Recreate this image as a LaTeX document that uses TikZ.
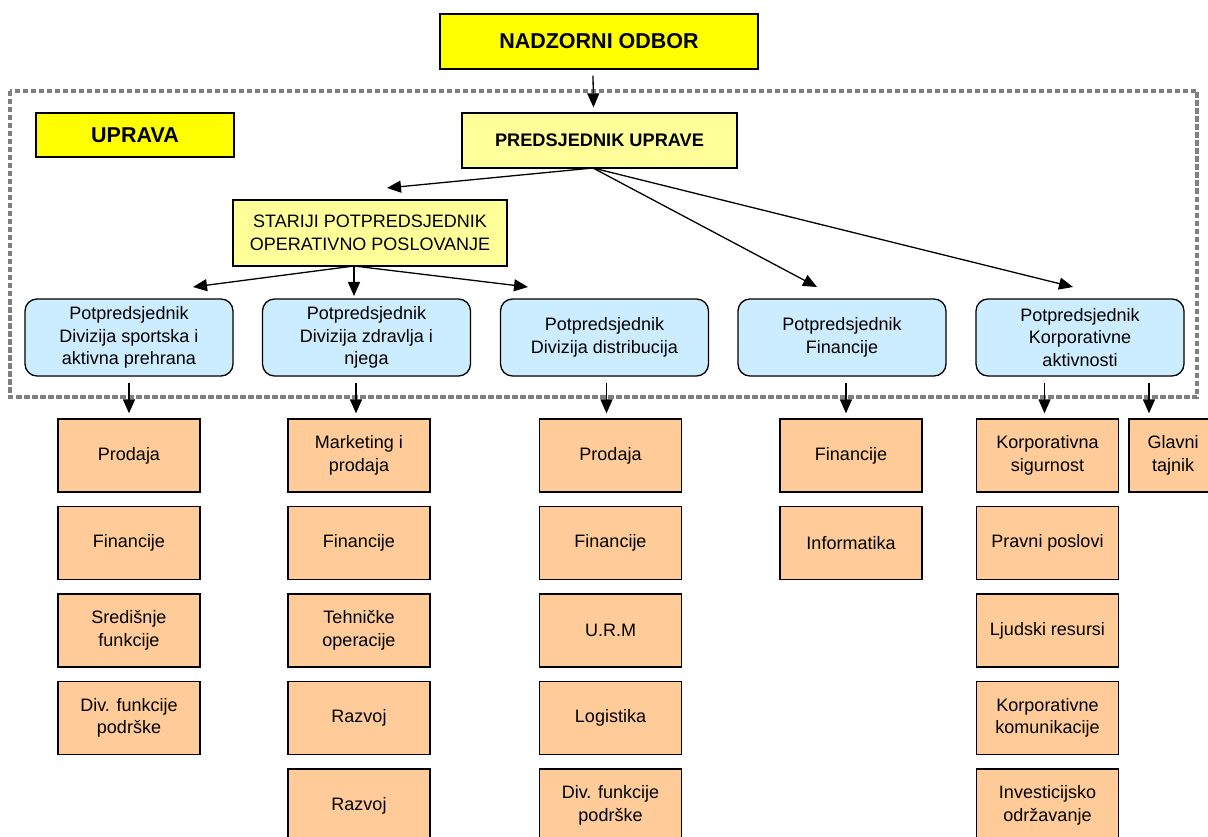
\documentclass[tikz,border=0pt]{standalone}
\usepackage{fontspec}
\setmainfont{Liberation Sans}
\usetikzlibrary{arrows.meta}
\definecolor{ylw}{HTML}{FFFF00}
\definecolor{lylw}{HTML}{FFFF99}
\definecolor{lblue}{HTML}{CCECFF}
\definecolor{orng}{HTML}{FFCC99}
\definecolor{dotgray}{HTML}{808080}
\tikzset{
  box/.style={draw=black, line width=1.3pt, align=center, inner sep=0pt,
    font=\fontsize{18}{22.5}\selectfont},
  titlebox/.style={box, fill=ylw, font=\fontsize{21.5}{25}\selectfont\bfseries},
  presbox/.style={box, fill=lylw, minimum width=275, minimum height=55,
    font=\fontsize{18.2}{22}\selectfont\bfseries},
  srbox/.style={box, fill=lylw, minimum width=274, minimum height=66},
  vpbox/.style={box, fill=lblue, rounded corners=12pt, minimum width=208, minimum height=77},
  unitbox/.style={box, fill=orng, minimum width=142, minimum height=73},
  arr/.style={line width=1.3pt, -{Triangle[length=14pt,width=12pt]}},
  border/.style={draw=dotgray, line width=3.5pt, dash pattern=on 5.5pt off 2.5pt}
}
\begin{document}
\begin{tikzpicture}[x=1pt,y=-1pt]
\useasboundingbox (0,0) rectangle (1208,837);
% dotted boundary of the management board
\draw[border] (10,91) rectangle (1197,397);
% top level
\node[titlebox, minimum width=318, minimum height=55] (nad) at (599,41.5) {NADZORNI ODBOR};
\node[titlebox, minimum width=198, minimum height=44] (upr) at (135,135) {UPRAVA};
\node[presbox] (pred) at (599.5,140.5) {PREDSJEDNIK UPRAVE};
\node[srbox] (star) at (370,233) {STARIJI POTPREDSJEDNIK\\OPERATIVNO POSLOVANJE};
% vice presidents
\node[vpbox] (b1) at (129,337.5) {Potpredsjednik\\Divizija sportska i\\aktivna prehrana};
\node[vpbox] (b2) at (366.5,337.5) {Potpredsjednik\\Divizija zdravlja i\\njega};
\node[vpbox] (b3) at (604.5,337.5) {Potpredsjednik\\Divizija distribucija};
\node[vpbox] (b4) at (842,337.5) {Potpredsjednik\\Financije};
\node[vpbox] (b5) at (1080,337.5) {Potpredsjednik\\Korporativne\\aktivnosti};
% column 1
\node[unitbox] (o11) at (129,455.5) {Prodaja};
\node[unitbox] (o12) at (129,543) {Financije};
\node[unitbox] (o13) at (129,630.5) {Središnje\\funkcije};
\node[unitbox] (o14) at (129,718) {Div. funkcije\\podrške};
% column 2
\node[unitbox] (o21) at (359,455.5) {Marketing i\\prodaja};
\node[unitbox] (o22) at (359,543) {Financije};
\node[unitbox] (o23) at (359,630.5) {Tehničke\\operacije};
\node[unitbox] (o24) at (359,718) {Razvoj};
\node[unitbox] (o25) at (359,805.5) {Razvoj};
% column 3
\node[unitbox] (o31) at (610.5,455.5) {Prodaja};
\node[unitbox] (o32) at (610.5,543) {Financije};
\node[unitbox] (o33) at (610.5,630.5) {U.R.M};
\node[unitbox] (o34) at (610.5,718) {Logistika};
\node[unitbox] (o35) at (610.5,805.5) {Div. funkcije\\podrške};
% column 4
\node[unitbox] (o41) at (851,455.5) {Financije};
\node[unitbox] (o42) at (851,543) {Informatika};
% column 5
\node[unitbox] (o51) at (1047.5,455.5) {Korporativna\\sigurnost};
\node[unitbox] (o52) at (1047.5,543) {Pravni poslovi};
\node[unitbox] (o53) at (1047.5,630.5) {Ljudski resursi};
\node[unitbox] (o54) at (1047.5,718) {Korporativne\\komunikacije};
\node[unitbox] (o55) at (1047.5,805.5) {Investicijsko\\održavanje};
\node[unitbox, minimum width=88] (gt) at (1173,455.5) {Glavni\\tajnik};
% connector end points
\coordinate (pfrom) at (593,168);
\coordinate (tstar) at (387,188);
\coordinate (tfin) at (817,287);
\coordinate (tkor) at (1073,287);
\coordinate (sfrom) at (354,266);
\coordinate (tb1) at (193,287);
\coordinate (tb2) at (354,296);
\coordinate (tb3) at (528,287);
% connectors
\draw[arr] ([xshift=-6pt,yshift=-6pt]nad.south) -- ([xshift=-6pt,yshift=5pt]pred.north);
\draw[arr] (pfrom) -- (tstar);
\draw[arr] (pfrom) -- (tfin);
\draw[arr] (pfrom) -- (tkor);
\draw[arr] (sfrom) -- (tb1);
\draw[arr] (sfrom) -- (tb2);
\draw[arr] (sfrom) -- (tb3);
\draw[arr] ([yshift=-6pt]b1.south -| o11.north) -- ([yshift=5pt]o11.north);
\draw[arr] ([xshift=-3pt,yshift=-6pt]b2.south -| o21.north) -- ([xshift=-3pt,yshift=5pt]o21.north);
\draw[arr] ([xshift=-4pt,yshift=-6pt]b3.south -| o31.north) -- ([xshift=-4pt,yshift=5pt]o31.north);
\draw[arr] ([xshift=-5pt,yshift=-6pt]b4.south -| o41.north) -- ([xshift=-5pt,yshift=5pt]o41.north);
\draw[arr] ([xshift=-3pt,yshift=-6pt]b5.south -| o51.north) -- ([xshift=-3pt,yshift=5pt]o51.north);
\draw[arr] ([xshift=-24pt,yshift=-6pt]b5.south -| gt.north) -- ([xshift=-24pt,yshift=5pt]gt.north);
\end{tikzpicture}
\end{document}
